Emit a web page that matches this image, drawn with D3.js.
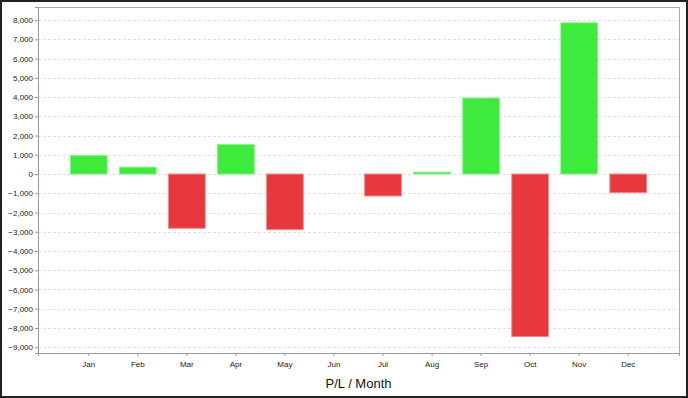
<!DOCTYPE html>
<html>
<head>
<meta charset="utf-8">
<script src="https://cdn.jsdelivr.net/npm/d3@7"></script>
<style>
  html, body { margin: 0; padding: 0; background: #fff; }
  #chart { width: 688px; height: 398px; }
  .tick text { font-family: "Liberation Sans", Arial, sans-serif; font-size: 8px; fill: #222; }
</style>
</head>
<body>
<div id="chart"></div>
<script>
// monthly profit / loss
const months = ['Jan', 'Feb', 'Mar', 'Apr', 'May', 'Jun', 'Jul', 'Aug', 'Sep', 'Oct', 'Nov', 'Dec'];
const pl = [960, 360, -2820, 1540, -2890, 0, -1140, 100, 3950, -8450, 7860, -970];
const yTicks = [8000, 7000, 6000, 5000, 4000, 3000, 2000, 1000, 0, -1000, -2000, -3000, -4000, -5000, -6000, -7000, -8000, -9000];

const width = 688, height = 398;
const margin = { top: 7, right: 9, bottom: 45, left: 38 };
const innerW = width - margin.left - margin.right;
const innerH = height - margin.top - margin.bottom;

const svg = d3.select('#chart').append('svg')
  .attr('width', width)
  .attr('height', height);

// outer frame
svg.append('rect')
  .attr('x', 1).attr('y', 1)
  .attr('width', width - 2).attr('height', height - 2)
  .attr('fill', 'none')
  .attr('stroke', '#222')
  .attr('stroke-width', 2);

const chart = svg.append('g')
  .attr('transform', `translate(${margin.left},${margin.top})`);

const x = d3.scaleBand()
  .domain(months)
  .range([0, innerW])
  .paddingInner(0.25)
  .paddingOuter(0.66);

const y = d3.scaleLinear()
  .domain([-9300, 8680])
  .range([innerH, 0]);

// gridlines
chart.selectAll('.grid')
  .data(yTicks)
  .join('line')
    .attr('class', 'grid')
    .attr('x1', 0)
    .attr('x2', innerW)
    .attr('y1', d => Math.round(y(d)) + 0.5)
    .attr('y2', d => Math.round(y(d)) + 0.5)
    .attr('stroke', '#e0e0e0')
    .attr('stroke-dasharray', '3,2');

// bars
chart.selectAll('.bar')
  .data(months.map((m, i) => ({ month: m, value: pl[i] })).filter(d => d.value !== 0))
  .join('rect')
    .attr('class', 'bar')
    .attr('x', d => x(d.month))
    .attr('width', x.bandwidth())
    .attr('y', d => y(Math.max(0, d.value)))
    .attr('height', d => Math.abs(y(d.value) - y(0)))
    .attr('fill', d => d.value >= 0 ? '#3eeb3c' : '#e8383d')
    .attr('stroke', d => d.value >= 0 ? '#8ef28c' : '#f08a8d')
    .attr('stroke-width', 1);

// plot border
chart.append('rect')
  .attr('x', 0.5).attr('y', 0.5)
  .attr('width', innerW).attr('height', innerH)
  .attr('fill', 'none')
  .attr('stroke', '#aaa')
  .attr('stroke-width', 1);

// axes
const yAxisG = chart.append('g')
  .call(d3.axisLeft(y).tickValues(yTicks).tickFormat(d3.format(',')).tickSize(3).tickPadding(2));
yAxisG.select('.domain').attr('stroke', '#999');
yAxisG.selectAll('.tick line').attr('stroke', '#999');

const xAxisG = chart.append('g')
  .attr('transform', `translate(0,${innerH})`)
  .call(d3.axisBottom(x).tickSize(3).tickPadding(5));
xAxisG.select('.domain').attr('stroke', '#999');
xAxisG.selectAll('.tick line').attr('stroke', '#999');

// axis title
svg.append('text')
  .attr('x', margin.left + innerW / 2)
  .attr('y', 388)
  .attr('text-anchor', 'middle')
  .attr('font-family', '"Liberation Sans", Arial, sans-serif')
  .attr('font-size', 13)
  .attr('fill', '#111')
  .text('P/L / Month');
</script>
</body>
</html>
